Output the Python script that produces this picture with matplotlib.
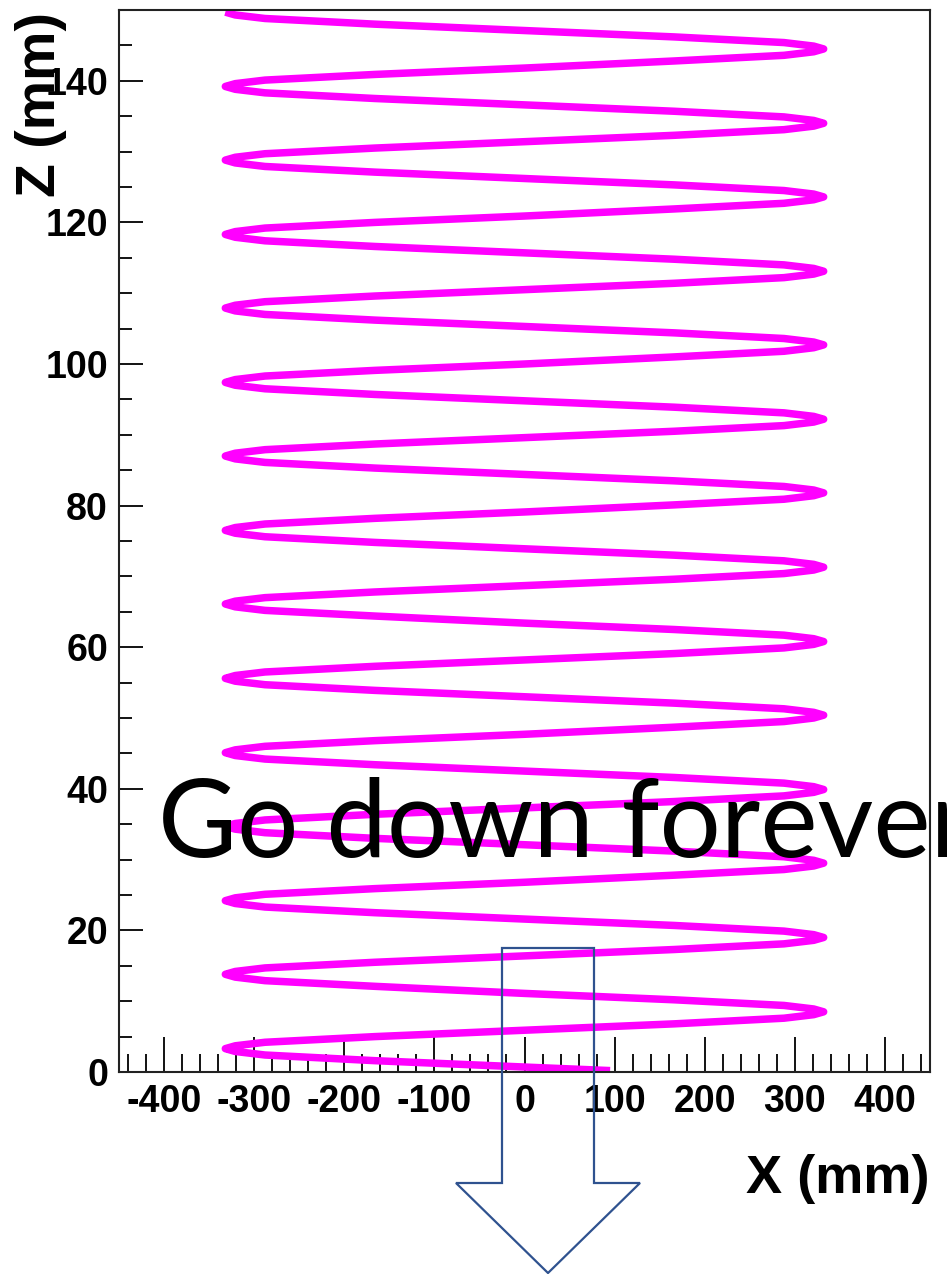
import matplotlib
matplotlib.use("Agg")
import matplotlib.pyplot as plt
from matplotlib import font_manager
from matplotlib.patches import Polygon
from matplotlib.ticker import MultipleLocator

plt.rcParams["axes.unicode_minus"] = False

# track projection in the X-Z plane, one half turn per line
track_x = [
    95, 0, -166, -288, -321,
    -332, -321, -288, -166, 0, 166, 288, 321,    # 1
    332, 321, 288, 166, 0, -166, -288, -321,     # 2
    -332, -321, -288, -166, 0, 166, 288, 321,    # 3
    332, 321, 288, 166, 0, -166, -288, -321,     # 4
    -332, -321, -288, -166, 0, 166, 288, 321,    # 5
    332, 321, 288, 166, 0, -166, -288, -321,     # 6
    -332, -321, -288, -166, 0, 166, 288, 321,    # 7
    332, 321, 288, 166, 0, -166, -288, -321,     # 8
    -332, -321, -288, -166, 0, 166, 288, 321,    # 9
    332, 321, 288, 166, 0, -166, -288, -321,     # 10
    -332, -321, -288, -166, 0, 166, 288, 321,    # 11
    332, 321, 288, 166, 0, -166, -288, -321,     # 12
    -332, -321, -288, -166, 0, 166, 288, 321,    # 13
    332, 321, 288, 166, 0, -166, -288, -321,     # 14
    -332, -321, -288, -166, 0, 166, 288, 321,    # 15
    332, 321, 288, 166, 0, -166, -288, -321,     # 16
    -332, -321, -288, -166, 0, 166, 288, 321,    # 17
    332, 321, 288, 166, 0, -166, -288, -321,     # 18
    -332, -321, -288, -166, 0, 166, 288, 321,    # 19
    332, 321, 288, 166, 0, -166, -288, -321,     # 20
    -332, -321, -288, -166, 0, 166, 288, 321,    # 21
    332, 321, 288, 166, 0, -166, -288, -321,     # 22
    -332, -321, -288, -166, 0, 166, 288, 321,    # 23
    332, 321, 288, 166, 0, -166, -288, -321,     # 24
    -332, -321, -288, -166, 0, 166, 288, 321,    # 25
    332, 321, 288, 166, 0, -166, -288, -321,     # 26
    -332, -321, -288, -166, 0, 166, 288, 321,    # 27
    332, 321, 288, 166, 0, -166, -288, -321,     # 28
    -332,
]
track_z = [
    0.2, 0.7, 1.6, 2.4, 2.9,
    3.3, 3.7, 4.2, 5.0, 5.9, 6.8, 7.6, 8.1,
    8.5, 8.9, 9.4, 10.2, 11.1, 12.1, 12.9, 13.4,
    13.8, 14.2, 14.7, 15.5, 16.4, 17.3, 18.1, 18.6,
    19.0, 19.4, 19.9, 20.7, 21.6, 22.5, 23.3, 23.8,
    24.2, 24.6, 25.1, 25.9, 26.8, 27.8, 28.6, 29.1,
    29.5, 29.9, 30.4, 31.2, 32.1, 33.0, 33.8, 34.3,
    34.7, 35.1, 35.6, 36.4, 37.3, 38.2, 39.0, 39.5,
    39.9, 40.3, 40.8, 41.6, 42.5, 43.4, 44.2, 44.7,
    45.1, 45.5, 46.0, 46.8, 47.7, 48.7, 49.5, 50.0,
    50.4, 50.8, 51.3, 52.1, 53.0, 53.9, 54.7, 55.2,
    55.6, 56.0, 56.5, 57.3, 58.2, 59.1, 59.9, 60.4,
    60.8, 61.2, 61.7, 62.5, 63.4, 64.4, 65.2, 65.7,
    66.1, 66.5, 67.0, 67.8, 68.7, 69.6, 70.4, 70.9,
    71.3, 71.7, 72.2, 73.0, 73.9, 74.8, 75.6, 76.1,
    76.5, 76.9, 77.4, 78.2, 79.1, 80.1, 80.9, 81.4,
    81.8, 82.2, 82.7, 83.5, 84.4, 85.3, 86.1, 86.6,
    87.0, 87.4, 87.9, 88.7, 89.6, 90.5, 91.3, 91.8,
    92.2, 92.6, 93.1, 93.9, 94.8, 95.7, 96.5, 97.0,
    97.4, 97.8, 98.3, 99.1, 100.0, 101.0, 101.8, 102.3,
    102.7, 103.1, 103.6, 104.4, 105.3, 106.2, 107.0, 107.5,
    107.9, 108.3, 108.8, 109.6, 110.5, 111.4, 112.2, 112.7,
    113.1, 113.5, 114.0, 114.8, 115.7, 116.6, 117.4, 117.9,
    118.3, 118.7, 119.2, 120.0, 120.9, 121.9, 122.7, 123.2,
    123.6, 124.0, 124.5, 125.3, 126.2, 127.1, 127.9, 128.4,
    128.8, 129.2, 129.7, 130.5, 131.4, 132.3, 133.1, 133.6,
    134.0, 134.4, 134.9, 135.7, 136.6, 137.5, 138.3, 138.8,
    139.2, 139.6, 140.1, 140.9, 141.8, 142.8, 143.6, 144.1,
    144.5, 144.9, 145.4, 146.2, 147.1, 148.0, 148.8, 149.3,
    149.7,
]

x_range = (-450, 450)
z_range = (0, 150)

# narrow bold face for the axis text if it is there
names = {f.name for f in font_manager.fontManager.ttflist}
if "Liberation Sans Narrow" in names:
    axis_font = "Liberation Sans Narrow"
    tick_size = 34
else:
    axis_font = "Liberation Sans"
    tick_size = 27

W, H = 947, 1274
fig = plt.figure(figsize=(W / 100, H / 100), dpi=100)
ax = fig.add_axes([119 / W, 1 - 1072 / H, (930 - 119) / W, (1072 - 10) / H])

ax.plot(track_x, track_z, color="#ff00ff", lw=5.4, solid_joinstyle="round",
        solid_capstyle="butt", zorder=2)

ax.set_xlim(*x_range)
ax.set_ylim(*z_range)

ax.xaxis.set_major_locator(MultipleLocator(100))
ax.xaxis.set_minor_locator(MultipleLocator(20))
ax.yaxis.set_major_locator(MultipleLocator(20))
ax.yaxis.set_minor_locator(MultipleLocator(5))

for s in ax.spines.values():
    s.set_linewidth(1.5)
    s.set_color("#222222")

ax.tick_params(axis="x", which="major", direction="in", length=25, width=1.3,
               pad=9, top=False)
ax.tick_params(axis="x", which="minor", direction="in", length=13, width=1.3, top=False)
ax.tick_params(axis="y", which="major", direction="in", length=17, width=1.3,
               pad=8, right=False)
ax.tick_params(axis="y", which="minor", direction="in", length=9.5, width=1.3, right=False)

for lab in ax.get_xticklabels() + ax.get_yticklabels():
    lab.set_fontfamily(axis_font)
    lab.set_fontweight("bold")
    lab.set_fontsize(tick_size)

ax.set_xlabel("X (mm)", loc="right", fontfamily=axis_font, fontweight="bold",
              fontsize=39)
ax.xaxis.set_label_coords(1.0, -0.077)
ax.set_ylabel("Z (mm)", loc="top", fontfamily="Liberation Sans", fontweight="bold",
              fontsize=40)
ax.yaxis.set_label_coords(-0.064, 0.998)

fig.text(158 / W, 1 - 857 / H, "Go down forever", fontfamily="Lato",
         fontsize=78, color="black", va="baseline", ha="left")

# hollow down arrow outline
arrow_px = [(502, 948), (594, 948), (594, 1183), (640, 1183), (548, 1273),
            (456, 1183), (502, 1183)]
arrow = Polygon([(x / W, 1 - y / H) for x, y in arrow_px], closed=True,
                fill=False, edgecolor="#2f528f", lw=1.6,
                transform=fig.transFigure, zorder=10)
fig.patches.append(arrow)

fig.savefig("out.png", dpi=100)
